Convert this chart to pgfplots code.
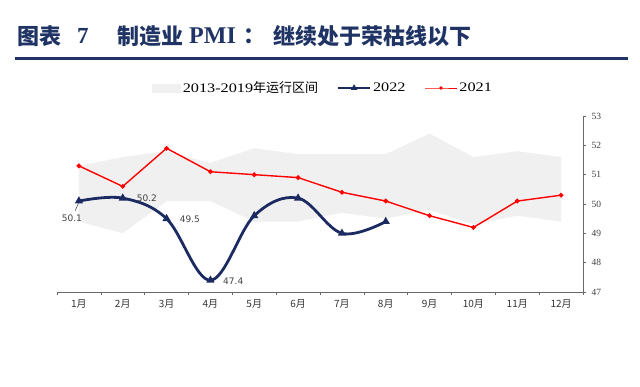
\documentclass[border=0pt]{standalone}
\usepackage{fontspec}
\setmainfont{Liberation Serif}
\newfontfamily\cjk{Noto Sans CJK SC}
\newfontfamily\legserif[FakeStretch=1.25]{Liberation Serif}
\newfontfamily\lblfont{DejaVu Sans}
\usepackage{pgfplots}
\pgfplotsset{compat=1.18}
\usepgfplotslibrary{fillbetween}
\definecolor{navy}{RGB}{28,42,98}
\definecolor{titleblue}{RGB}{31,52,100}
\definecolor{bandgray}{RGB}{240,240,240}
\definecolor{axgray}{RGB}{105,105,105}
\begin{document}
\begin{tikzpicture}
\path (0,0) rectangle (640pt,387pt);
% title
\node[anchor=west, text=titleblue, font=\cjk\bfseries\fontsize{22}{24}\selectfont, inner sep=0pt] at (17pt,351pt) {图表};
\node[anchor=west, text=titleblue, font=\bfseries\fontsize{23}{24}\selectfont, inner sep=0pt] at (77pt,351pt) {7};
\node[anchor=west, text=titleblue, font=\cjk\bfseries\fontsize{22}{24}\selectfont, inner sep=0pt] at (117pt,351pt) {制造业};
\node[anchor=west, text=titleblue, font=\bfseries\fontsize{24}{24}\selectfont, inner sep=0pt] at (189pt,351pt) {PMI};
\node[anchor=west, text=titleblue, font=\cjk\bfseries\fontsize{22}{24}\selectfont, inner sep=0pt] at (243pt,351pt) {：};
\node[anchor=west, text=titleblue, font=\cjk\bfseries\fontsize{22}{24}\selectfont, inner sep=0pt] at (273pt,351pt) {继续处于荣枯线以下};
\draw[titleblue, line width=3pt] (15pt,328pt) -- (628pt,328pt);
\begin{axis}[
  at={(57pt,95pt)}, anchor=south west,
  width=526pt, height=176pt, scale only axis,
  xmin=0.5, xmax=12.5, ymin=47, ymax=53,
  axis y line*=right, axis x line*=bottom,
  axis line style={axgray, line width=0.8pt},
  xtick={1,...,12},
  xticklabels={1月,2月,3月,4月,5月,6月,7月,8月,9月,10月,11月,12月},
  major x tick style={draw=none},
  minor xtick={0.5,1.5,2.5,3.5,4.5,5.5,6.5,7.5,8.5,9.5,10.5,11.5,12.5},
  tick align=outside, major tick length=3pt, minor tick length=3pt,
  ytick={47,48,...,53},
  tick style={axgray, line width=0.6pt},
  xticklabel style={font=\cjk\fontsize{10}{12}\selectfont, text=black!80, yshift=-1pt},
  yticklabel style={font=\fontsize{9.5}{11}\selectfont, text=black!75, xshift=2pt},
  /pgf/number format/assume math mode=true,
  clip=false,
  legend style={at={(0.506,1)}, anchor=center, yshift=28pt, draw=none, fill=none,
    legend columns=3, font=\legserif\fontsize{13}{15}\selectfont,
    /tikz/every even column/.append style={column sep=17pt}},
  legend image code/.code={\draw[mark repeat=2,mark phase=2,#1] plot coordinates {(0pt,0pt)(16pt,0pt)(32pt,0pt)};},
]
\addplot[name path=up, draw=none, forget plot] coordinates {(1,51.3)(2,51.6)(3,51.8)(4,51.4)(5,51.9)(6,51.7)(7,51.7)(8,51.7)(9,52.4)(10,51.6)(11,51.8)(12,51.6)};
\addplot[name path=lo, draw=none, forget plot] coordinates {(1,49.4)(2,49.0)(3,50.1)(4,50.1)(5,49.4)(6,49.4)(7,49.7)(8,49.5)(9,49.8)(10,49.3)(11,49.6)(12,49.4)};
\addplot[bandgray, forget plot] fill between[of=up and lo];
\addplot[red, line width=1.4pt, mark=*, mark size=1.6pt, forget plot] coordinates {(1,51.3)(2,50.6)(3,51.9)(4,51.1)(5,51.0)(6,50.9)(7,50.4)(8,50.1)(9,49.6)(10,49.2)(11,50.1)(12,50.3)};
\addplot[navy, line width=2.8pt, smooth, tension=0.6, mark=triangle*, mark size=2pt, forget plot] coordinates {(1,50.1)(2,50.2)(3,49.5)(4,47.4)(5,49.6)(6,50.2)(7,49.0)(8,49.4)};
\node[font=\lblfont\fontsize{9}{10}\selectfont, text=black!75] at (axis cs:0.84,49.52) {50.1};
\node[font=\lblfont\fontsize{9}{10}\selectfont, text=black!75] at (axis cs:2.55,50.2) {50.2};
\node[font=\lblfont\fontsize{9}{10}\selectfont, text=black!75] at (axis cs:3.53,49.49) {49.5};
\node[font=\lblfont\fontsize{9}{10}\selectfont, text=black!75] at (axis cs:4.52,47.36) {47.4};
\draw[black!75, line width=0.5pt] (axis cs:0.91,49.76) -- (axis cs:0.99,50.02);
\addlegendimage{legend image code/.code={\fill[bandgray] (0pt,-4pt) rectangle (28pt,4pt);}}
\addlegendentry{2013-2019{\cjk\fontsize{13}{15}\selectfont 年运行区间}}
\addlegendimage{navy, line width=1.8pt, mark=triangle*, mark size=2pt}
\addlegendentry{2022}
\addlegendimage{red, line width=0.9pt, mark=*, mark size=1.3pt}
\addlegendentry{2021}
\end{axis}
\end{tikzpicture}
\end{document}
